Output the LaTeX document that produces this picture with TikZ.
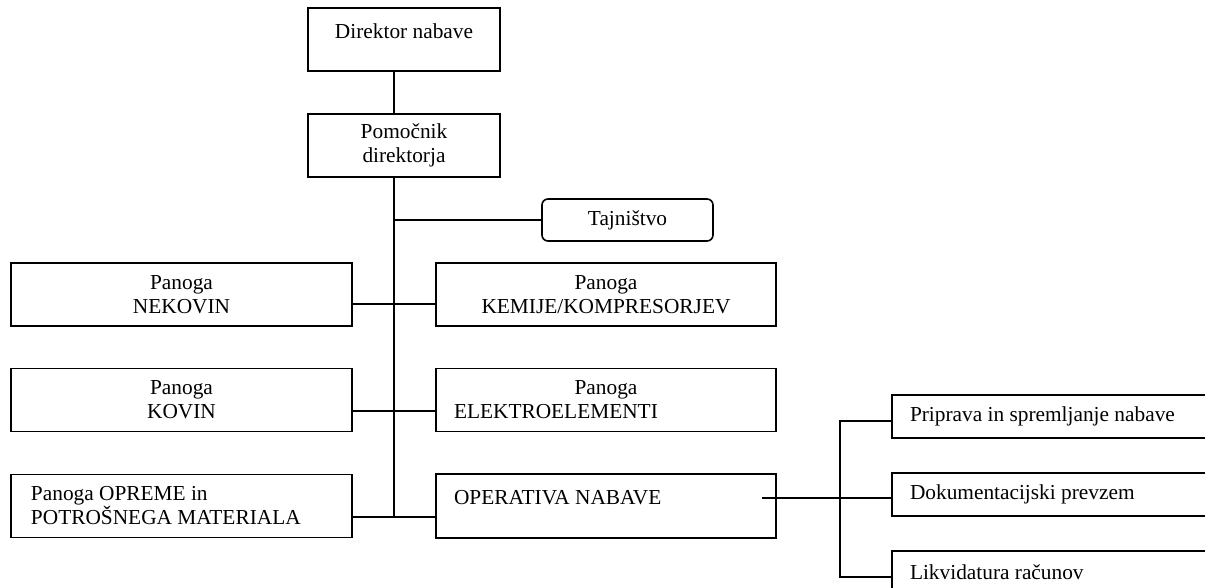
\documentclass[tikz,border=0pt]{standalone}
\usepackage{fontspec}
\setmainfont{Liberation Serif}
\usetikzlibrary{positioning, calc}
\tikzset{
  % Plain box, centred text
  OB/.style={rectangle,draw=black,line width=0.8pt,align=center,
             minimum width=#1,minimum height=31.5pt,inner sep=2pt,
             font=\fontsize{10.67}{12}\selectfont},
  OB/.default=170pt,
  % Box with text flush left
  LB/.style={rectangle,draw=black,line width=0.8pt,align=flush left,
             text width=#1,inner xsep=9pt,inner ysep=0pt,
             minimum height=31.5pt,font=\fontsize{10.67}{12}\selectfont,
             execute at begin node={\spaceskip=0pt\xspaceskip=0pt}},
  LB/.default=152pt,
  % Rounded box
  RB/.style={OB=85.5pt,rounded corners=3pt,minimum height=21pt},
  % Connector lines
  Ln/.style={line width=0.8pt,color=black},
}

\begin{document}
\begin{tikzpicture}[x=0.5pt,y=-0.5pt]
  \path[use as bounding box] (0,0) rectangle (1205,588);
  \clip (0,0) rectangle (1205,588);
  % Head of the chart
  \node[OB=96pt,text height=15.5pt,text depth=16pt,inner ysep=0pt]
        at (404,39.5) (dir) {Direktor nabave};
  \node[OB=96pt] at (404,145.5) (pom) {Pomočnik\\direktorja};
  \node[RB] at (627.5,220) (taj) {Tajništvo};
  % Left column
  \node[OB=170.5pt] at (181.5,294.5) (nek) {Panoga\\NEKOVIN};
  \node[OB=170.5pt] at (181.5,400) (kov) {Panoga\\KOVIN};
  \node[LB=150.5pt,inner xsep=10pt] at (181.5,506) (opr)
        {Panoga OPREME in\\POTROŠNEGA MATERIALA};
  % Right column
  \node[OB] at (606,294.5) (kem) {Panoga\\KEMIJE/KOMPRESORJEV};
  \node[LB] at (606,400) (ele) {\makebox[152pt]{Panoga}\\ELEKTROELEMENTI};
  \node[LB,text height=15pt,text depth=17pt] at (606,506) (ope)
        {OPERATIVA NABAVE};
  % Operativa units
  \node[LB=148.5pt,minimum height=21.5pt] at (1058.5,416.5) (pri)
        {Priprava in spremljanje nabave};
  \node[LB=148.5pt,minimum height=21.5pt] at (1058.5,494.5) (dok)
        {Dokumentacijski prevzem};
  \node[LB=148.5pt,minimum height=21.5pt] at (1058.5,572.5) (lik)
        {Likvidatura računov};
  % Spine and branches
  \coordinate (spn) at (394,517);
  \coordinate (j0) at (394,220);
  \coordinate (j1) at (394,304);
  \coordinate (j2) at (394,411);
  \draw[Ln] (dir.south -| spn) -- (pom.north -| spn);
  \draw[Ln] (pom.south -| spn) -- (spn);
  \draw[Ln] (j0) -- (taj.west);
  \draw[Ln] (nek.east |- j1) -- (kem.west |- j1);
  \draw[Ln] (kov.east |- j2) -- (ele.west |- j2);
  \draw[Ln] (opr.east |- spn) -- (ope.west |- spn);
  % Operativa branch
  \coordinate (opx) at (762,498);
  \coordinate (s1) at (840,421);
  \coordinate (s3) at (840,577);
  \draw[Ln] (opx) -- (dok.west |- opx);
  \draw[Ln] (pri.west |- s1) -- (s1) -- (s3) -- (lik.west |- s3);
\end{tikzpicture}
\end{document}
